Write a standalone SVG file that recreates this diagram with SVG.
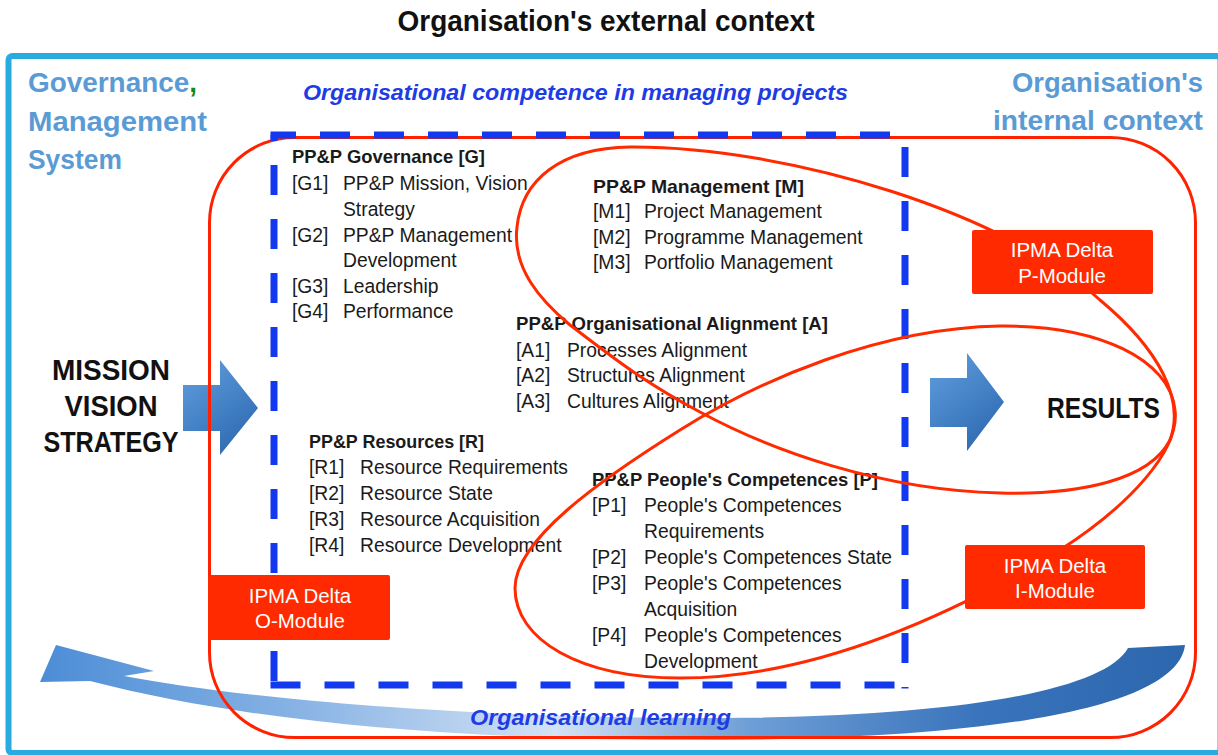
<svg xmlns="http://www.w3.org/2000/svg" width="1218" height="755" viewBox="0 0 1218 755">
<defs>
<linearGradient id="arrowGrad" x1="0" y1="0" x2="0.6" y2="1">
<stop offset="0" stop-color="#62A0E0"/>
<stop offset="1" stop-color="#2F6CB3"/>
</linearGradient>
<linearGradient id="swooshGrad" x1="0" y1="0" x2="1" y2="0">
<stop offset="0" stop-color="#4C8DD6"/>
<stop offset="0.22" stop-color="#86B2E4"/>
<stop offset="0.45" stop-color="#D3E2F4"/>
<stop offset="0.62" stop-color="#6E9ED6"/>
<stop offset="0.82" stop-color="#3A74BC"/>
<stop offset="1" stop-color="#2C67AE"/>
</linearGradient>
<style>
.t{font-family:"Liberation Sans",Arial,sans-serif;font-size:19.3px;fill:#1a1a1a}
.h{font-weight:bold;font-size:18.5px}
.big{font-family:"Liberation Sans",Arial,sans-serif;font-weight:bold;font-size:29px;fill:#111}
.side{font-family:"Liberation Sans",Arial,sans-serif;font-weight:bold;font-size:28px;fill:#5B9BD5}
.bi{font-family:"Liberation Sans",Arial,sans-serif;font-weight:bold;font-style:italic;font-size:22px;fill:#1E3CE6}
.dash{stroke:#1238F0;stroke-width:7;stroke-dasharray:30 24;fill:none}
.loop{fill:none;stroke:#FF2A00;stroke-width:3}
.box rect{fill:#FF2A00}
.box text{font-family:"Liberation Sans",Arial,sans-serif;font-size:20.5px;fill:#fff;text-anchor:middle}
.barrow{fill:url(#arrowGrad)}
</style>
</defs>
<rect width="1218" height="755" fill="#fff"/>
<text x="606" y="31" class="big" font-size="27" text-anchor="middle" textLength="417" lengthAdjust="spacingAndGlyphs">Organisation's external context</text>
<rect id="frame" x="8.5" y="56" width="1212" height="697" rx="4" fill="#fff" stroke="#29ABE2" stroke-width="6"/>
<g id="labels">
<text x="28" y="92" class="side" textLength="169" lengthAdjust="spacingAndGlyphs">Governance<tspan fill="#138A13">,</tspan></text>
<text x="28" y="131" class="side" textLength="179" lengthAdjust="spacingAndGlyphs">Management</text>
<text x="28" y="169" class="side" textLength="94" lengthAdjust="spacingAndGlyphs">System</text>
<text x="1203" y="92" class="side" text-anchor="end" textLength="191" lengthAdjust="spacingAndGlyphs">Organisation's</text>
<text x="1203" y="130" class="side" text-anchor="end" textLength="210" lengthAdjust="spacingAndGlyphs">internal context</text>
<text x="303" y="100" class="bi" textLength="545" lengthAdjust="spacingAndGlyphs">Organisational competence in managing projects</text>
</g>
<g id="connectors">
<path id="learning-arrow" fill="url(#swooshGrad)" d="M1185,645 C1178,705 1010,738 720,740 C480,741 260,725 90,681 L40,682 L56,645 L154,671 L124,676 C250,700 480,719 720,718 C960,717 1105,690 1128,648 Z"/>
<polygon id="input-arrow" class="barrow" points="183,385 220,385 220,360 258,408 220,455 220,431 183,431"/>
<polygon id="output-arrow" class="barrow" points="930,378 967,378 967,353 1004,402 967,451 967,427 930,427"/>
</g>
<rect id="internal-context" x="209.5" y="137.5" width="986" height="600" rx="85" fill="none" stroke="#FF2200" stroke-width="3"/>
<text x="470" y="725" class="bi" font-size="21" textLength="261" lengthAdjust="spacingAndGlyphs">Organisational learning</text>
<g id="competence-boundary">
<line class="dash" x1="270.5" y1="135" x2="908.5" y2="135" stroke-dashoffset="4.5"/>
<line class="dash" x1="274" y1="135" x2="274" y2="688.5" stroke-dashoffset="24"/>
<line class="dash" x1="905" y1="135" x2="905" y2="688.5" stroke-dashoffset="42"/>
<line class="dash" x1="270.5" y1="685" x2="908.5" y2="685" stroke-dashoffset="0"/>
</g>
<g id="mission">
<text x="111" y="380" class="big" text-anchor="middle" textLength="118" lengthAdjust="spacingAndGlyphs">MISSION</text>
<text x="111" y="416" class="big" text-anchor="middle" textLength="93" lengthAdjust="spacingAndGlyphs">VISION</text>
<text x="111" y="452" class="big" text-anchor="middle" textLength="135" lengthAdjust="spacingAndGlyphs">STRATEGY</text>
</g>
<g id="results">
<text x="1047" y="418" class="big" textLength="113" lengthAdjust="spacingAndGlyphs">RESULTS</text>
</g>
<g id="governance" class="t">
<text x="292" y="163" class="t h" font-weight="bold" textLength="193" lengthAdjust="spacingAndGlyphs">PP&amp;P Governance [G]</text>
<text x="292" y="190" class="t">[G1]</text><text x="343" y="190" class="t">PP&amp;P Mission, Vision</text>
<text x="343" y="216" class="t">Strategy</text>
<text x="292" y="242" class="t">[G2]</text><text x="343" y="242" class="t">PP&amp;P Management</text>
<text x="343" y="267" class="t">Development</text>
<text x="292" y="293" class="t">[G3]</text><text x="343" y="293" class="t">Leadership</text>
<text x="292" y="318" class="t">[G4]</text><text x="343" y="318" class="t">Performance</text>
</g>
<g id="management">
<text x="593" y="193" class="t h" font-weight="bold" textLength="211" lengthAdjust="spacingAndGlyphs">PP&amp;P Management [M]</text>
<text x="593" y="218" class="t">[M1]</text><text x="644" y="218" class="t">Project Management</text>
<text x="593" y="244" class="t">[M2]</text><text x="644" y="244" class="t">Programme Management</text>
<text x="593" y="269" class="t">[M3]</text><text x="644" y="269" class="t">Portfolio Management</text>
</g>
<g id="alignment">
<text x="516" y="330" class="t h" font-weight="bold" textLength="312" lengthAdjust="spacingAndGlyphs">PP&amp;P Organisational Alignment [A]</text>
<text x="516" y="357" class="t">[A1]</text><text x="567" y="357" class="t">Processes Alignment</text>
<text x="516" y="382" class="t">[A2]</text><text x="567" y="382" class="t">Structures Alignment</text>
<text x="516" y="408" class="t">[A3]</text><text x="567" y="408" class="t">Cultures Alignment</text>
</g>
<g id="resources">
<text x="309" y="448" class="t h" font-weight="bold" textLength="175" lengthAdjust="spacingAndGlyphs">PP&amp;P Resources [R]</text>
<text x="309" y="474" class="t">[R1]</text><text x="360" y="474" class="t">Resource Requirements</text>
<text x="309" y="500" class="t">[R2]</text><text x="360" y="500" class="t">Resource State</text>
<text x="309" y="526" class="t">[R3]</text><text x="360" y="526" class="t">Resource Acquisition</text>
<text x="309" y="552" class="t">[R4]</text><text x="360" y="552" class="t">Resource Development</text>
</g>
<g id="people">
<text x="592" y="486" class="t h" font-weight="bold" textLength="286" lengthAdjust="spacingAndGlyphs">PP&amp;P People's Competences [P]</text>
<text x="592" y="512" class="t">[P1]</text><text x="644" y="512" class="t">People's Competences</text>
<text x="644" y="538" class="t">Requirements</text>
<text x="592" y="564" class="t">[P2]</text><text x="644" y="564" class="t">People's Competences State</text>
<text x="592" y="590" class="t">[P3]</text><text x="644" y="590" class="t">People's Competences</text>
<text x="644" y="616" class="t">Acquisition</text>
<text x="592" y="642" class="t">[P4]</text><text x="644" y="642" class="t">People's Competences</text>
<text x="644" y="668" class="t">Development</text>
</g>
<g id="loops">
<path id="p-loop" class="loop" d="M517,227 C522,180 560,148 630,147 C790,146 1010,215 1100,300 C1160,350 1185,400 1170,440 C1150,480 1080,495 1000,493 C880,490 770,450 700,412 C640,380 610,355 570,325 C540,300 512,268 517,227 Z"/>
<path id="i-loop" class="loop" d="M515,588 C515,640 580,678 680,678 C820,678 960,610 1060,550 C1130,505 1180,450 1175,410 C1170,360 1100,325 1000,326 C880,328 760,380 680,430 C600,480 515,540 515,588 Z"/>
</g>
<g id="p-module" class="box">
<rect x="972" y="230" width="181" height="64" rx="2"/>
<text x="1062" y="257">IPMA Delta</text>
<text x="1062" y="283">P-Module</text>
</g>
<g id="i-module" class="box">
<rect x="965" y="545" width="180" height="64" rx="2"/>
<text x="1055" y="573">IPMA Delta</text>
<text x="1055" y="598">I-Module</text>
</g>
<g id="o-module" class="box">
<rect x="208" y="575" width="182" height="65" rx="2"/>
<text x="300" y="603">IPMA Delta</text>
<text x="300" y="628">O-Module</text>
</g>
</svg>
